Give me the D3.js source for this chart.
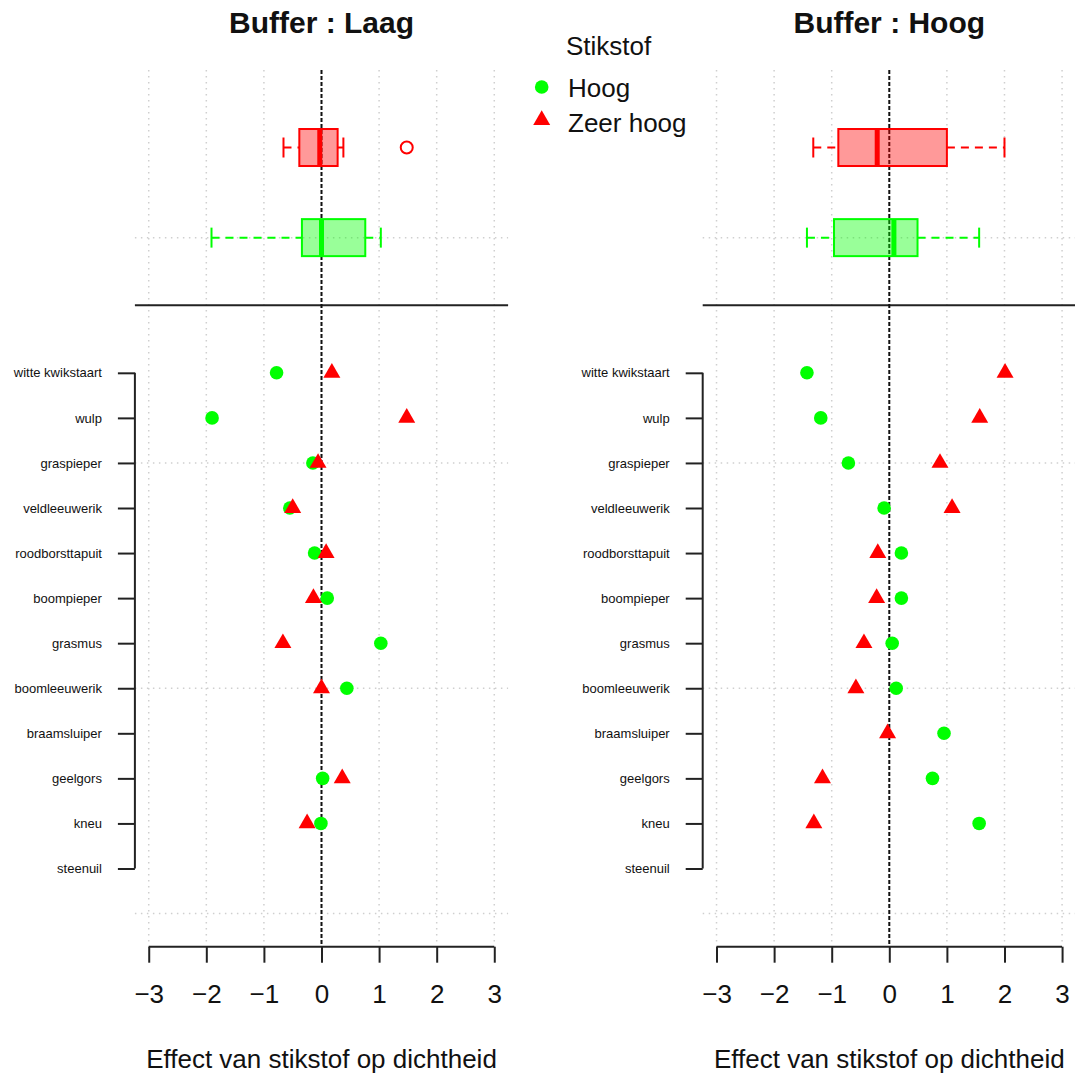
<!DOCTYPE html>
<html>
<head>
<meta charset="utf-8">
<script src="https://cdn.jsdelivr.net/npm/d3@7"></script>
<style>
  body { margin: 0; background: #fff; }
  svg { display: block; font-family: "Liberation Sans", Arial, sans-serif; }
</style>
</head>
<body>
<script>
// species, top to bottom
const species = ["witte kwikstaart", "wulp", "graspieper", "veldleeuwerik", "roodborsttapuit",
  "boompieper", "grasmus", "boomleeuwerik", "braamsluiper", "geelgors", "kneu", "steenuil"];

// effect estimates per species (null = no estimate)
const laagHoog = [-0.78, -1.9, -0.15, -0.55, -0.12, 0.1, 1.03, 0.44, null, 0.02, -0.01, null];
const laagZeerHoog = [0.18, 1.48, -0.06, -0.5, 0.08, -0.14, -0.67, 0.0, null, 0.36, -0.25, null];
const hoogHoog = [-1.43, -1.19, -0.71, -0.09, 0.21, 0.21, 0.05, 0.12, 0.95, 0.75, 1.56, null];
const hoogZeerHoog = [2.01, 1.57, 0.88, 1.09, -0.2, -0.22, -0.44, -0.58, -0.03, -1.16, -1.31, null];

// boxplot stats: [lower whisker, q1, median, q3, upper whisker]
const boxLaagHoog = [-1.91, -0.34, 0.0, 0.76, 1.03];
const boxLaagZeerHoog = [-0.66, -0.385, -0.03, 0.28, 0.38];
const outLaagZeerHoog = [1.48];
const boxHoogHoog = [-1.43, -0.96, 0.08, 0.49, 1.56];
const boxHoogZeerHoog = [-1.32, -0.885, -0.21, 1.0, 2.0];
const outHoogZeerHoog = [];

const xTicks = [-3, -2, -1, 0, 1, 2, 3];
const hGrid = [0, 5, 10, 15];

const W = 1075, H = 1077;
const GREEN = "#00ff00", RED = "#ff0000";

const svg = d3.select("body").append("svg").attr("width", W).attr("height", H);

const y = d3.scaleLinear().domain([-0.72, 18.72]).range([946, 70]);

const panels = [
  { title: "Buffer : Laag", x0: 134.9, hoog: laagHoog, zeer: laagZeerHoog,
    boxH: boxLaagHoog, boxZ: boxLaagZeerHoog, outZ: outLaagZeerHoog },
  { title: "Buffer : Hoog", x0: 702.7, hoog: hoogHoog, zeer: hoogZeerHoog,
    boxH: boxHoogHoog, boxZ: boxHoogZeerHoog, outZ: outHoogZeerHoog }
];

const triangle = d3.symbol().type(d3.symbolTriangle).size(125);

panels.forEach(p => {
  const x = d3.scaleLinear().domain([-3.24, 3.24]).range([p.x0, p.x0 + 373.2]);
  const g = svg.append("g");
  const [xl, xr] = x.range();

  // grid
  g.selectAll("line.vgrid").data(xTicks).join("line")
    .attr("x1", d => x(d)).attr("x2", d => x(d))
    .attr("y1", y.range()[1]).attr("y2", y.range()[0])
    .attr("stroke", "#cfcfcf").attr("stroke-width", 1.5)
    .attr("stroke-dasharray", "1.5,4.5");
  g.selectAll("line.hgrid").data(hGrid).join("line")
    .attr("x1", xl).attr("x2", xr)
    .attr("y1", d => y(d)).attr("y2", d => y(d))
    .attr("stroke", "#cfcfcf").attr("stroke-width", 1.5)
    .attr("stroke-dasharray", "1.5,4.5");

  // separator
  g.append("line")
    .attr("x1", xl).attr("x2", xr)
    .attr("y1", y(13.5)).attr("y2", y(13.5))
    .attr("stroke", "#222").attr("stroke-width", 2);

  // zero line
  g.append("line")
    .attr("x1", x(0)).attr("x2", x(0))
    .attr("y1", y.range()[1]).attr("y2", y.range()[0])
    .attr("stroke", "#111").attr("stroke-width", 2)
    .attr("stroke-dasharray", "4,2");

  // boxplots
  const boxes = [
    { s: p.boxH, out: [], pos: 15, col: GREEN, fill: "rgba(0,255,0,0.4)" },
    { s: p.boxZ, out: p.outZ, pos: 17, col: RED, fill: "rgba(255,0,0,0.4)" }
  ];
  boxes.forEach(b => {
    const cy = y(b.pos), hh = 18.5, cap = 10;
    const [lo, q1, med, q3, hi] = b.s;
    const bg = g.append("g");
    bg.selectAll("line.wh").data([[lo, q1], [q3, hi]]).join("line")
      .attr("x1", d => x(d[0])).attr("x2", d => x(d[1]))
      .attr("y1", cy).attr("y2", cy)
      .attr("stroke", b.col).attr("stroke-width", 2)
      .attr("stroke-dasharray", "8,6");
    bg.selectAll("line.cap").data([lo, hi]).join("line")
      .attr("x1", d => x(d)).attr("x2", d => x(d))
      .attr("y1", cy - cap).attr("y2", cy + cap)
      .attr("stroke", b.col).attr("stroke-width", 2);
    bg.append("rect")
      .attr("x", x(q1)).attr("width", x(q3) - x(q1))
      .attr("y", cy - hh).attr("height", 2 * hh)
      .attr("fill", b.fill).attr("stroke", b.col).attr("stroke-width", 2);
    bg.append("line")
      .attr("x1", x(med)).attr("x2", x(med))
      .attr("y1", cy - hh).attr("y2", cy + hh)
      .attr("stroke", b.col).attr("stroke-width", 5);
    bg.selectAll("circle.out").data(b.out).join("circle")
      .attr("cx", d => x(d)).attr("cy", cy).attr("r", 6)
      .attr("fill", "none").attr("stroke", b.col).attr("stroke-width", 2);
  });

  // species points
  const rows = species.map((s, i) => ({ s, pos: 12 - i, h: p.hoog[i], z: p.zeer[i] }));
  g.selectAll("circle.pt").data(rows.filter(d => d.h !== null)).join("circle")
    .attr("cx", d => x(d.h)).attr("cy", d => y(d.pos)).attr("r", 6.8)
    .attr("fill", GREEN);
  g.selectAll("path.pt").data(rows.filter(d => d.z !== null)).join("path")
    .attr("d", triangle)
    .attr("transform", d => `translate(${x(d.z)},${y(d.pos)})`)
    .attr("fill", RED);

  // x axis
  const xa = g.append("g").attr("transform", `translate(0,946.7)`)
    .call(d3.axisBottom(x).tickValues(xTicks).tickSize(16)
      .tickFormat(d => d < 0 ? "\u2212" + Math.abs(d) : d));
  xa.select(".domain").remove();
  xa.append("line").attr("x1", x(-3)).attr("x2", x(3))
    .attr("stroke", "#222").attr("stroke-width", 2);
  xa.selectAll(".tick line").attr("stroke", "#222").attr("stroke-width", 2);
  xa.selectAll(".tick text").attr("y", 56).attr("dy", null)
    .attr("font-size", 26).attr("fill", "#111")
    .attr("font-family", "'Liberation Sans', Arial, sans-serif");

  // y axis with species
  const ya = g.append("g").attr("transform", `translate(${xl},0)`)
    .call(d3.axisLeft(y).tickValues(d3.range(1, 13)).tickSize(17).tickPadding(16)
      .tickFormat(v => species[12 - v]));
  ya.select(".domain").remove();
  ya.append("line").attr("y1", y(1)).attr("y2", y(12))
    .attr("stroke", "#222").attr("stroke-width", 2);
  ya.selectAll(".tick line").attr("stroke", "#222").attr("stroke-width", 2);
  ya.selectAll(".tick text").attr("font-size", 13).attr("fill", "#111")
    .attr("font-family", "'Liberation Sans', Arial, sans-serif");

  // titles
  g.append("text").attr("x", x(0)).attr("y", 33)
    .attr("text-anchor", "middle").attr("font-size", 30).attr("font-weight", "bold")
    .attr("fill", "#111").text(p.title);
  g.append("text").attr("x", x(0)).attr("y", 1068)
    .attr("text-anchor", "middle").attr("font-size", 26)
    .attr("fill", "#111").text("Effect van stikstof op dichtheid");
});

// legend
const legend = svg.append("g");
legend.append("text").attr("x", 566).attr("y", 55)
  .attr("font-size", 26).attr("fill", "#111").text("Stikstof");
legend.append("circle").attr("cx", 541.7).attr("cy", 87).attr("r", 6.8).attr("fill", GREEN);
legend.append("path").attr("d", triangle).attr("transform", "translate(541.7,120)").attr("fill", RED);
legend.append("text").attr("x", 568).attr("y", 97)
  .attr("font-size", 26).attr("fill", "#111").text("Hoog");
legend.append("text").attr("x", 568).attr("y", 131.5)
  .attr("font-size", 26).attr("fill", "#111").text("Zeer hoog");
</script>
</body>
</html>
